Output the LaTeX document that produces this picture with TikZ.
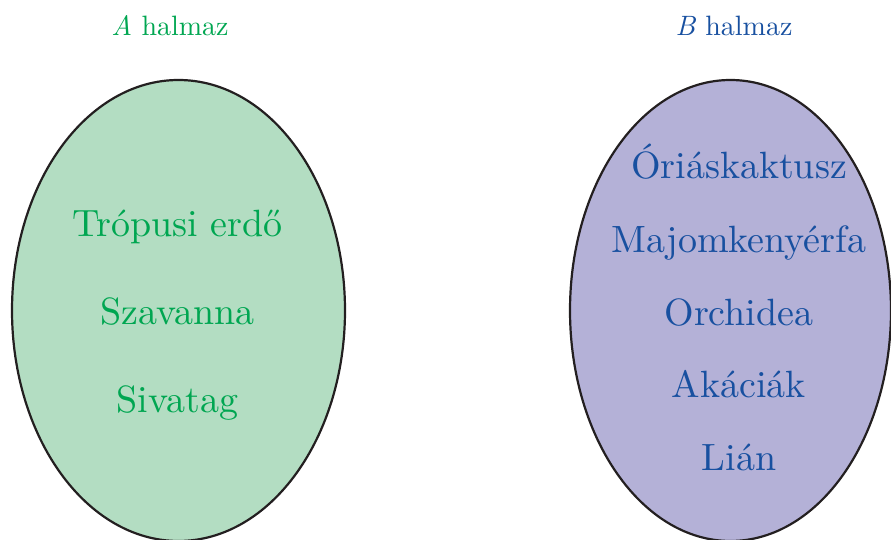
\documentclass[tikz,border=0pt]{standalone}
\begin{document}
\definecolor{agreen}{RGB}{0,166,81}
\definecolor{afill}{RGB}{179,221,194}
\definecolor{bblue}{RGB}{24,80,160}
\definecolor{bfill}{RGB}{180,177,215}
\definecolor{edge}{RGB}{35,31,32}
\begin{tikzpicture}[x=1pt,y=-1pt,
  setshape/.style={draw=edge,line width=2.2pt},
  item/.style={anchor=base,inner sep=0pt,scale=3.8,font=\fontsize{10}{12}\selectfont},
  title/.style={anchor=base,inner sep=0pt,scale=2.8,font=\fontsize{10}{12}\selectfont}]
\useasboundingbox (0,0) rectangle (891,540);
\begin{scope}
\clip (0,0) rectangle (891,540);
\draw[setshape,fill=afill] (178.5,310.5) ellipse [x radius=166.5, y radius=230.5];
\draw[setshape,fill=bfill] (730.5,310.5) ellipse [x radius=160.5, y radius=230.5];
\end{scope}
\node[title,text=agreen] (ta) at (170,36) {\textit{A} halmaz};
\node[title,text=bblue] (tb) at (734,36) {\textit{B} halmaz};
\node[item,text=agreen] (a1) at (177.5,236) {Trópusi erdő};
\node[item,text=agreen] (a2) at (177.5,324) {Szavanna};
\node[item,text=agreen] (a3) at (177.5,412) {Sivatag};
\node[item,text=bblue] (b1) at (739,179) {Óriáskaktusz};
\node[item,text=bblue] (b2) at (739,252) {Majomkenyérfa};
\node[item,text=bblue] (b3) at (739,325) {Orchidea};
\node[item,text=bblue] (b4) at (739,397.5) {Akáciák};
\node[item,text=bblue] (b5) at (739,470) {Lián};
\end{tikzpicture}
\end{document}
